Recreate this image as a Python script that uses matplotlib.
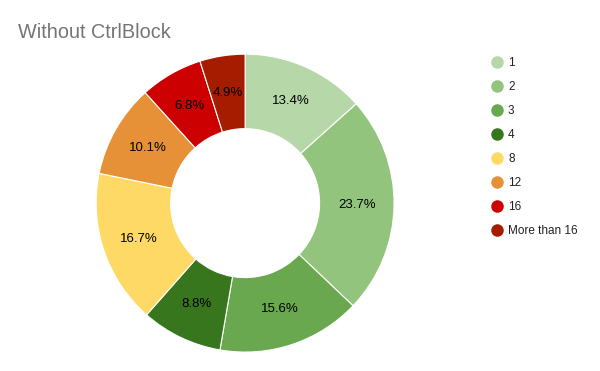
import matplotlib.pyplot as plt
from matplotlib.lines import Line2D

plt.rcParams["font.family"] = ["Liberation Sans", "DejaVu Sans"]

# Data
labels = ["1", "2", "3", "4", "8", "12", "16", "More than 16"]
shares = [13.4, 23.7, 15.6, 8.8, 16.7, 10.1, 6.8, 4.9]
colors = ["#b6d7a8", "#93c47d", "#6aa84f", "#38761d",
          "#ffd966", "#e69138", "#cc0000", "#a61c00"]

fig = plt.figure(figsize=(6, 3.71), dpi=100)
ax = fig.add_axes([0.16, 0.051, 0.497, 0.803])

wedges, texts, autotexts = ax.pie(
    shares,
    colors=colors,
    startangle=90,
    counterclock=False,
    autopct="%1.1f%%",
    pctdistance=0.75,
    wedgeprops=dict(width=0.5, edgecolor="white", linewidth=0.8),
    textprops=dict(fontsize=9.5, color="#000000"),
)
ax.set_xlim(-1, 1)
ax.set_ylim(-1, 1)
ax.set_aspect("equal")

fig.text(18 / 600, 1 - 33 / 371, "Without CtrlBlock", fontsize=14.3,
         color="#757575", va="center", ha="left")

# Legend
handles = [Line2D([], [], marker="o", linestyle="", markersize=8,
                  markerfacecolor=c, markeredgecolor=c) for c in colors]
fig.legend(handles, labels, loc="upper left",
           bbox_to_anchor=(485 / 600, 1 - 52 / 371),
           frameon=False, fontsize=8.5, labelspacing=1.02,
           handletextpad=0.35, borderaxespad=0, handlelength=1.2,
           labelcolor="#222222")

fig.savefig("out.png", dpi=100)
